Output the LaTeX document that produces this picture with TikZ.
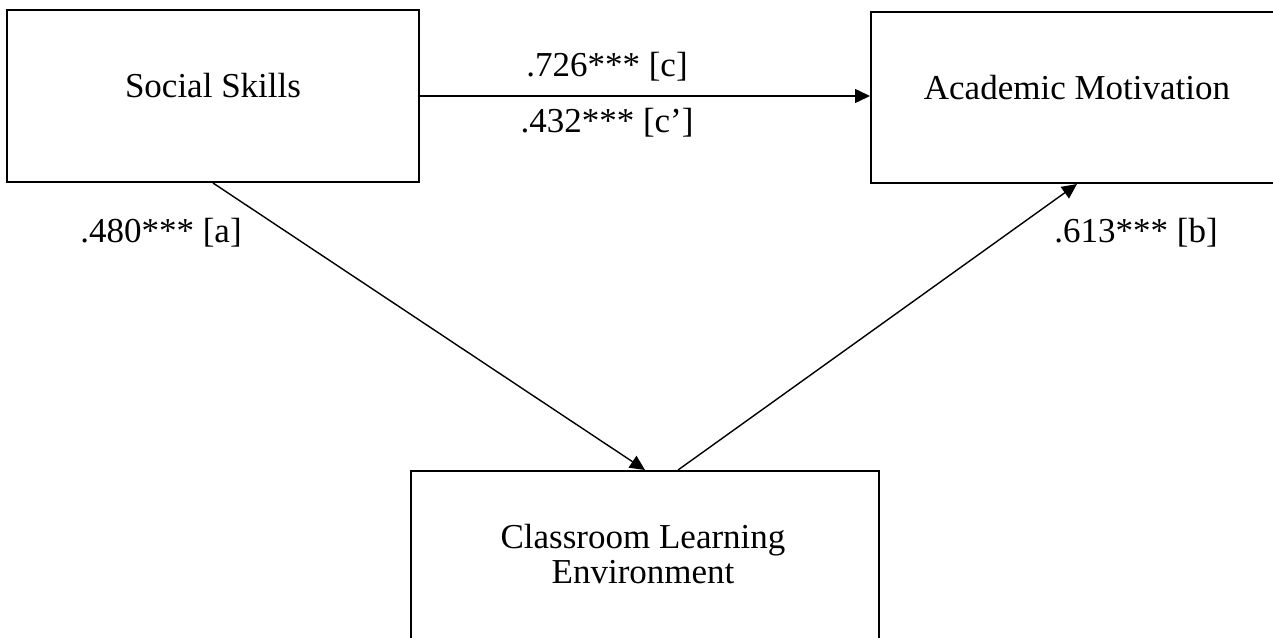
\documentclass[tikz,border=0pt]{standalone}
\usepackage{fontspec}
\setmainfont{Liberation Serif}
\usepackage{tikz}
\usetikzlibrary{arrows.meta, calc, positioning}
\tikzset{
    varbox/.style = {draw, line width=1pt, inner sep=0pt},
    vartext/.style = {font=\fontsize{17.5}{17.5}\selectfont, align=center, anchor=base, inner sep=0pt},
    coef/.style = {font=\fontsize{17.5}{17.5}\selectfont, anchor=base, inner sep=0pt},
    link/.style = {line width=0.7pt, -{Triangle[length=7.5pt,width=7pt]}},
}
\begin{document}
\begin{tikzpicture}[x=0.5pt, y=-0.5pt]
\useasboundingbox (0,0) rectangle (1273,637);
\clip (0,0) rectangle (1273,637);

\node[varbox, minimum width=206pt, minimum height=86pt] (social) at (213,96) {};
\node[vartext] (socialtxt) at ($(social.center)+(0,1)$) {Social Skills};

\node[varbox, minimum width=206pt, minimum height=85.5pt] (acad) at (1077,97.5) {};
\node[vartext] (acadtxt) at ($(acad.center)+(0,1.5)$) {Academic Motivation};

\node[varbox, minimum width=234pt, minimum height=86pt] (clen) at (645,557) {};
\node[vartext] (clentxt) at ($(clen.center)+(-2,26)$) {Classroom Learning\\Environment};

\coordinate (bstart) at ($(clen.north)+(33,0)$);

\draw[link] (social.east) -- (social.east -| acad.west);
\draw[link] (social.south) -- (clen.north);
\draw[link] (bstart) -- (acad.south);

\node[coef] (c) at (607,76) {.726*** [c]};
\node[coef] (cp) at (607,132) {.432*** [c’]};
\node[coef] (a) at (161,242) {.480*** [a]};
\node[coef] (b) at (1136,242) {.613*** [b]};
\end{tikzpicture}
\end{document}
